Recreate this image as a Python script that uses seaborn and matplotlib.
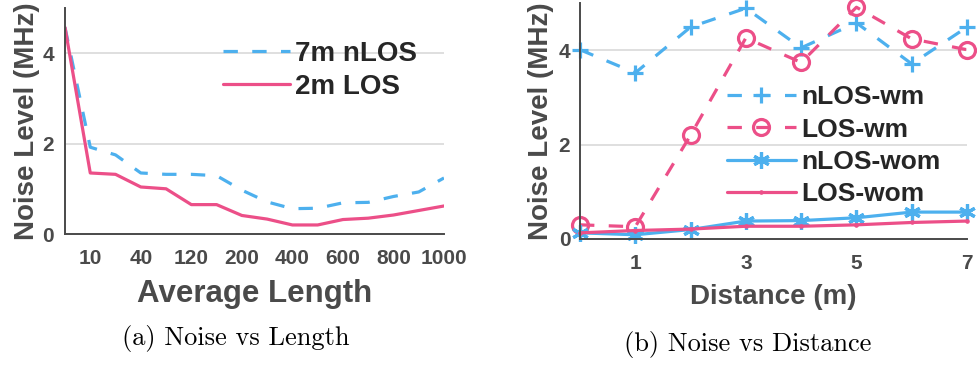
import numpy as np
import pandas as pd
import matplotlib
matplotlib.use("Agg")
import matplotlib.pyplot as plt
import seaborn as sns

# ---- data: noise vs averaging length ----
length_idx = list(range(16))
length_tick_pos = [1, 3, 5, 7, 9, 11, 13, 15]
length_tick_labels = ["10", "40", "120", "200", "400", "600", "800", "1000"]
nlos_7m = [4.57, 1.92, 1.75, 1.35, 1.32, 1.32, 1.29, 0.97,
           0.71, 0.56, 0.57, 0.69, 0.70, 0.83, 0.93, 1.24]
los_2m = [4.57, 1.35, 1.32, 1.04, 1.00, 0.65, 0.65, 0.41,
          0.33, 0.20, 0.20, 0.32, 0.35, 0.42, 0.52, 0.62]

# ---- data: noise vs distance ----
distance = [0, 1, 2, 3, 4, 5, 6, 7]
distance_ticks = [1, 3, 5, 7]
nlos_wm = [4.01, 3.52, 4.49, 4.89, 4.05, 4.58, 3.71, 4.49]
los_wm = [0.30, 0.26, 2.20, 4.26, 3.74, 4.91, 4.24, 4.01]
nlos_wom = [0.13, 0.09, 0.20, 0.38, 0.39, 0.45, 0.57, 0.57]
los_wom = [0.13, 0.18, 0.21, 0.27, 0.27, 0.30, 0.35, 0.38]

BLUE = "#4DB0EE"
PINK = "#EC4F88"
AX_GRAY = "#4A4A4A"
GRID = "#DCDCDC"
DASH = (0, (4.5, 4.5))

sns.set_theme(style="white")
plt.rcParams["font.family"] = ["Liberation Sans", "DejaVu Sans"]

fig = plt.figure(figsize=(9.77, 3.66), dpi=100)
W, H = 977, 366


def frame(l, t, r, b):
    return fig.add_axes([l / W, 1 - b / H, (r - l) / W, (b - t) / H])


def style_axes(ax, xpad, ypad):
    sns.despine(ax=ax)
    for s in ("left", "bottom"):
        ax.spines[s].set_color(AX_GRAY)
        ax.spines[s].set_linewidth(1.4)
    ax.tick_params(direction="in", length=5, width=1.3, color=AX_GRAY,
                   labelsize=15, labelcolor=AX_GRAY)
    ax.tick_params(axis="x", pad=xpad)
    ax.tick_params(axis="y", pad=ypad)
    for lab in ax.get_xticklabels() + ax.get_yticklabels():
        lab.set_fontweight("bold")
    ax.yaxis.grid(True, color=GRID, linewidth=1.3)
    ax.xaxis.grid(False)
    ax.set_axisbelow(True)
    ax.set_facecolor("white")


# ---- (a) Noise vs Length ----
ax1 = frame(65, 8, 444, 234)
dfa = pd.DataFrame({"x": length_idx, "nlos": nlos_7m, "los": los_2m})
sns.lineplot(data=dfa, x="x", y="nlos", ax=ax1, color=BLUE, linewidth=2.3,
             linestyle=DASH, label="7m nLOS")
sns.lineplot(data=dfa, x="x", y="los", ax=ax1, color=PINK, linewidth=2.3,
             label="2m LOS")
ax1.set_xlim(0, 15)
ax1.set_ylim(0, 5)
ax1.set_xticks(length_tick_pos)
ax1.set_xticklabels(length_tick_labels)
ax1.set_yticks([0, 2, 4])
ax1.set_xlabel("Average Length", fontsize=22.5, fontweight="bold",
               color=AX_GRAY, labelpad=8)
ax1.set_ylabel("Noise Level (MHz)", fontsize=20, fontweight="bold",
               color=AX_GRAY, labelpad=1.5)
style_axes(ax1, xpad=11, ypad=8)
ax1.legend(loc="upper left", bbox_to_anchor=(0.417, 0.853), frameon=False,
           prop={"weight": "bold", "size": 20}, handlelength=2.4,
           handletextpad=0.18, labelspacing=0.25, borderpad=0,
           borderaxespad=0)

# ---- (b) Noise vs Distance ----
ax2 = frame(580, 3, 967, 239)
dfb = pd.DataFrame({"d": distance, "nwm": nlos_wm, "lwm": los_wm,
                    "nwom": nlos_wom, "lwom": los_wom})
sns.lineplot(data=dfb, x="d", y="nwm", ax=ax2, color=BLUE, linewidth=2.3,
             linestyle=DASH, marker="+", markersize=11,
             markeredgewidth=2.3, markeredgecolor=BLUE,
             label="nLOS-wm", clip_on=False)
sns.lineplot(data=dfb, x="d", y="lwm", ax=ax2, color=PINK, linewidth=2.3,
             linestyle=DASH, marker="o", markersize=11.5,
             markerfacecolor="none", markeredgecolor=PINK,
             markeredgewidth=2.3, label="LOS-wm", clip_on=False)
sns.lineplot(data=dfb, x="d", y="nwom", ax=ax2, color=BLUE, linewidth=2.3,
             marker=(6, 2, 0), markersize=12, markeredgewidth=2.3,
             markeredgecolor=BLUE, label="nLOS-wom", clip_on=False)
sns.lineplot(data=dfb, x="d", y="lwom", ax=ax2, color=PINK, linewidth=2.3,
             marker=".", markersize=5, markeredgecolor=PINK,
             label="LOS-wom", clip_on=False)
ax2.set_xlim(0, 7)
ax2.set_ylim(0, 5)
ax2.set_xticks(distance_ticks)
ax2.set_yticks([0, 2, 4])
ax2.set_xlabel("Distance (m)", fontsize=20, fontweight="bold",
               color=AX_GRAY, labelpad=7.5)
ax2.set_ylabel("Noise Level (MHz)", fontsize=20, fontweight="bold",
               color=AX_GRAY, labelpad=3)
style_axes(ax2, xpad=11, ypad=7)
ax2.legend(loc="upper left", bbox_to_anchor=(0.38, 0.652), frameon=False,
           prop={"weight": "bold", "size": 19}, handlelength=2.6,
           handletextpad=0.2, labelspacing=0.32, borderpad=0,
           borderaxespad=0)

# ---- captions ----
fig.text(236 / W, 1 - 338 / H, "(a) Noise vs Length", family="cmr10",
         fontsize=19, ha="center", va="center", color="black")
fig.text(748 / W, 1 - 345 / H, "(b) Noise vs Distance", family="cmr10",
         fontsize=19, ha="center", va="center", color="black")

fig.savefig("out.png", dpi=100, facecolor="white")
